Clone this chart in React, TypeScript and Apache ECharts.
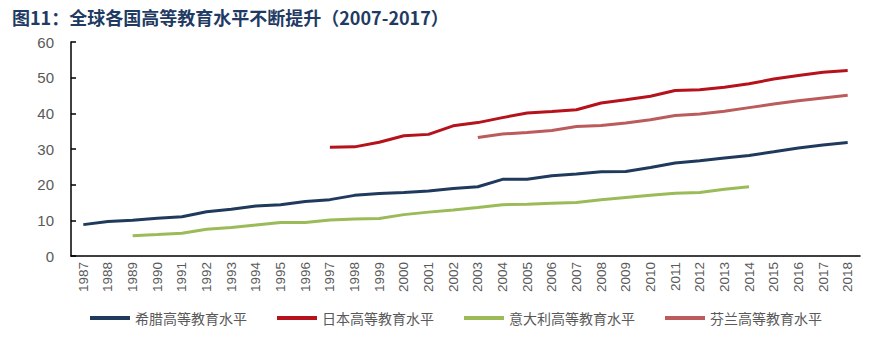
import React, { useEffect, useRef } from "react";
import * as echarts from "echarts";

const titleText = "图11：全球各国高等教育水平不断提升（2007-2017）";
const years = [
  "1987", "1988", "1989", "1990", "1991", "1992", "1993", "1994", "1995", "1996",
  "1997", "1998", "1999", "2000", "2001", "2002", "2003", "2004", "2005", "2006",
  "2007", "2008", "2009", "2010", "2011", "2012", "2013", "2014", "2015", "2016",
  "2017", "2018",
];
const seriesNames = ["希腊高等教育水平", "日本高等教育水平", "意大利高等教育水平", "芬兰高等教育水平"];
const greece = [
  8.8, 9.7, 10.0, 10.6, 11.0, 12.4, 13.1, 14.0, 14.4, 15.3,
  15.8, 17.0, 17.5, 17.8, 18.2, 18.9, 19.4, 21.5, 21.5, 22.5,
  23.0, 23.6, 23.7, 24.8, 26.1, 26.7, 27.5, 28.2, 29.2, 30.3,
  31.1, 31.8,
];
const japan = [
  null, null, null, null, null, null, null, null, null, null,
  30.5, 30.6, 31.9, 33.7, 34.1, 36.5, 37.4, 38.8, 40.1, 40.5,
  41.0, 42.9, 43.8, 44.8, 46.4, 46.6, 47.3, 48.3, 49.6, 50.6,
  51.5, 52.0,
];
const italy = [
  null, null, 5.7, 6.0, 6.4, 7.5, 8.0, 8.7, 9.4, 9.4,
  10.1, 10.4, 10.5, 11.6, 12.3, 12.9, 13.6, 14.4, 14.5, 14.8,
  15.0, 15.8, 16.4, 17.0, 17.6, 17.8, 18.7, 19.4, null, null,
  null, null,
];
const finland = [
  null, null, null, null, null, null, null, null, null, null,
  null, null, null, null, null, null, 33.2, 34.2, 34.6, 35.2,
  36.3, 36.6, 37.3, 38.2, 39.4, 39.8, 40.6, 41.6, 42.6, 43.5,
  44.3, 45.1,
];
const colors = ["#1f3a5c", "#b5121b", "#9bbb59", "#bc5b5b"];

export default function App() {
  const ref = useRef<HTMLDivElement>(null);
  useEffect(() => {
    if (!ref.current) return;
    const chart = echarts.init(ref.current, undefined, { renderer: "svg" });
    const datasets = [greece, japan, italy, finland];
    chart.setOption({
      animation: false,
      title: {
        text: titleText,
        left: 7,
        top: 3,
        textStyle: {
          fontSize: 18,
          fontWeight: "bold",
          color: "#1f3b63",
          fontFamily: "Noto Sans CJK SC",
        },
      },
      legend: {
        top: 306,
        left: 85,
        icon: "rect",
        itemWidth: 40,
        itemHeight: 4,
        itemGap: 30,
        textStyle: { fontSize: 14, color: "#595959", fontFamily: "Noto Sans CJK SC" },
        data: seriesNames,
      },
      grid: { left: 71, right: 14, top: 42, bottom: 101, containLabel: false },
      xAxis: {
        type: "category",
        data: years,
        boundaryGap: true,
        axisLine: { lineStyle: { color: "#000", width: 1.5 } },
        axisTick: { show: false },
        axisLabel: {
          rotate: 90,
          color: "#595959",
          fontSize: 13.5,
          fontFamily: "Liberation Sans",
          margin: 6,
          interval: 0,
        },
      },
      yAxis: {
        type: "value",
        min: 0,
        max: 60,
        interval: 10,
        axisLine: { show: true, lineStyle: { color: "#000", width: 1.5 } },
        axisTick: { show: true, inside: true, length: 5, lineStyle: { color: "#000", width: 1.5 } },
        splitLine: { show: false },
        axisLabel: { color: "#595959", fontSize: 15, fontFamily: "Liberation Sans", margin: 17 },
      },
      series: seriesNames.map((name, i) => ({
        name,
        type: "line",
        data: datasets[i],
        symbol: "none",
        color: colors[i],
        lineStyle: { width: 3, color: colors[i] },
      })),
    });
    return () => chart.dispose();
  }, []);
  return (
    <div
      ref={ref}
      style={{ position: "fixed", left: 0, top: 0, width: 874, height: 357, background: "#fff" }}
    />
  );
}
